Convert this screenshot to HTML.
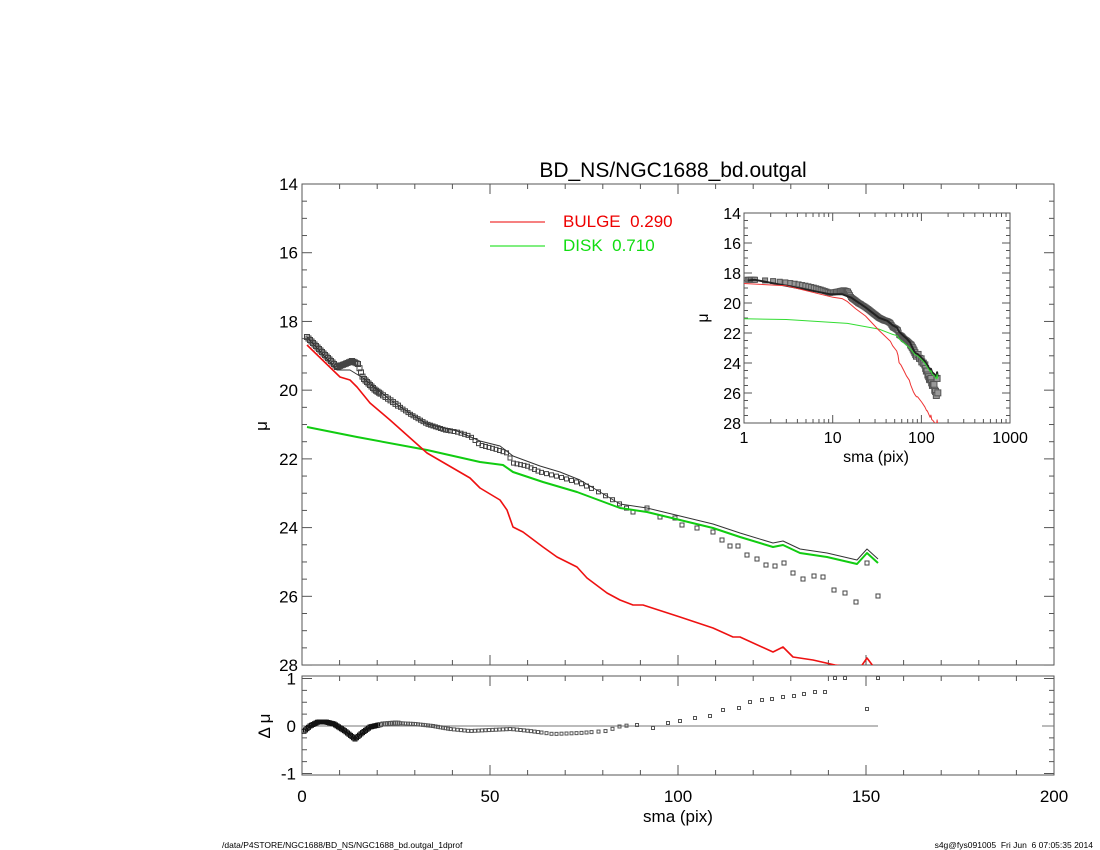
<!DOCTYPE html>
<html><head><meta charset="utf-8"><style>
body{margin:0;background:#fff;}
svg{display:block;font-family:"Liberation Sans",sans-serif;}
</style></head><body>
<svg id="s" width="1100" height="850" xmlns="http://www.w3.org/2000/svg">
<rect width="1100" height="850" fill="#fff"/>
<text x="673" y="177" font-size="21" text-anchor="middle">BD_NS/NGC1688_bd.outgal</text>
<text x="267" y="426" font-size="17" text-anchor="middle" transform="rotate(-90 267 426)">μ</text>
<text x="270" y="726" font-size="17" text-anchor="middle" transform="rotate(-90 270 726)">Δ μ</text>
<text x="678" y="822" font-size="17" text-anchor="middle">sma (pix)</text>
<line x1="490" y1="222" x2="545" y2="222" stroke="#e00" stroke-width="1"/>
<text x="563" y="227" font-size="17" fill="#e00">BULGE&#160;&#160;0.290</text>
<line x1="490" y1="246" x2="545" y2="246" stroke="#0d0" stroke-width="1"/>
<text x="563" y="251" font-size="17" fill="#1d1">DISK&#160;&#160;0.710</text>
<text x="222" y="848" font-size="8.5">/data/P4STORE/NGC1688/BD_NS/NGC1688_bd.outgal_1dprof</text>
<text x="1093" y="848" font-size="8.5" text-anchor="end">s4g@fys091005&#160;&#160;Fri Jun&#160;&#160;6 07:05:35 2014</text>
<text x="876" y="462" font-size="16" text-anchor="middle">sma (pix)</text>
<text x="708" y="318" font-size="16" text-anchor="middle" transform="rotate(-90 708 318)">μ</text>
<g id="g"></g>
</svg>
<script>
var NS="http://www.w3.org/2000/svg",g=document.getElementById('g');
function el(t,a,txt){var e=document.createElementNS(NS,t);for(var k in a)e.setAttribute(k,a[k]);if(txt!==undefined)e.textContent=txt;g.appendChild(e);return e;}
function line(x1,y1,x2,y2,c,w){el('line',{x1:x1,y1:y1,x2:x2,y2:y2,stroke:c||'#000','stroke-width':w||1});}
function poly(pts,c,w,clip){el('polyline',{points:pts.map(p=>p[0].toFixed(1)+','+p[1].toFixed(1)).join(' '),fill:'none',stroke:c,'stroke-width':w,'stroke-linejoin':'round','clip-path':clip||''});}
function sq(x,y,s,c){el('rect',{x:x-s/2,y:y-s/2,width:s,height:s,fill:'none',stroke:c||'#333','stroke-width':1});}
var d=document.createElementNS(NS,'defs');d.innerHTML='<clipPath id="cm"><rect x="302" y="184" width="752" height="481"/></clipPath><clipPath id="ci"><rect x="744" y="213" width="266" height="210"/></clipPath>';g.appendChild(d);
var L=302,R=1054,T=184,B=665;
el('rect',{x:L,y:T,width:R-L,height:B-T,fill:'none',stroke:'#555'});
function X(r){return L+r*3.76;} function Y(m){return T+(m-14)*34.36;}
for(var r=0;r<=200;r+=10){var mj=r%50==0,l=mj?10:5;line(X(r),B,X(r),B-l,'#555');line(X(r),T,X(r),T+l,'#555');}
for(var m=14;m<=28.001;m+=0.5){var mj=Math.abs(m%2)<0.01,l=mj?10:5;line(L,Y(m),L+l,Y(m),'#555');line(R,Y(m),R-l,Y(m),'#555');if(mj)el('text',{x:L-4,y:Y(m)+6,'font-size':17,'text-anchor':'end'},m);}
var RT=676,RB=775,R0=726,RS=47.5;
el('rect',{x:L,y:RT,width:R-L,height:RB-RT,fill:'none',stroke:'#555'});
for(var r=0;r<=200;r+=10){var mj=r%50==0,l=mj?10:5;line(X(r),RB,X(r),RB-l,'#555');line(X(r),RT,X(r),RT+l,'#555');if(mj)el('text',{x:X(r),y:802,'font-size':17,'text-anchor':'middle'},r);}
for(var v=-1;v<=1.001;v+=0.25){var mj=Math.abs(v%1)<0.01,l=mj?10:5;var yy=R0-v*RS;line(L,yy,L+l,yy,'#555');line(R,yy,R-l,yy,'#555');if(mj)el('text',{x:L-6,y:yy+6,'font-size':17,'text-anchor':'end'},Math.round(v));}
line(302,R0,878,R0,'#777');line(1042,R0,1054,R0,'#777');
var red=[[307,345],[340,377],[350,380],[357,387],[370,403],[390,420],[427,453],[470,478],[480,488],[500,500],[507,510],[513,527],[523,532],[543,547],[557,557],[577,567],[587,578],[607,593],[620,600],[633,605],[643,605],[680,617],[713,628],[733,637],[740,637],[773,652],[783,647],[793,657],[813,660],[835,665],[850,667],[860,668],[867,658],[873,666]];
var grn=[[307,427],[357,437],[427,450],[480,462],[503,465],[513,472],[543,482],[577,492],[620,508],[647,512],[680,520],[713,528],[740,537],[773,547],[783,545],[800,553],[827,557],[857,564],[867,553],[878,563]];
var dat=[[307,337],[322,352],[337,367],[345,364],[352,361],[358,364],[363,378],[375,390],[390,400],[410,414],[427,424],[445,430],[457,432],[470,436],[480,445],[495,449],[507,453],[513,463],[527,466],[540,472],[560,477],[580,483],[597,491],[613,500],[633,512],[647,508],[660,517],[675,518],[682,525],[697,528],[713,532],[722,540],[730,546],[738,546],[747,555],[757,559],[766,565],[775,566],[784,563],[793,573],[803,579],[814,576],[823,577],[834,590],[845,593],[856,602],[867,563],[878,596]];
function interp(a,x){for(var i=1;i<a.length;i++)if(x<=a[i][0]){var t=(x-a[i-1][0])/(a[i][0]-a[i-1][0]||1);return a[i-1][1]+t*(a[i][1]-a[i-1][1]);}return a[a.length-1][1];}
var mod=[[307,337],[337,370],[350,370],[363,378],[390,400],[427,424],[457,431],[480,441],[500,446],[513,456],[540,466],[560,472],[580,480]].concat(grn.slice(8).map(p=>[p[0],p[1]-4]));
var pts=[];for(var x=307;x<630;){pts.push([x,interp(dat,x)]);x+=x<380?1.5:(x<450?2.5:(x<540?3.5:(x<590?5:7)));}
dat.forEach(p=>{if(p[0]>=630)pts.push(p);});
pts.forEach(p=>sq(p[0],p[1],p[0]<400?5:4,'#444'));
poly(mod,'#333',1,'url(#cm)');
poly(grn,'#1c1',2,'url(#cm)');
poly(red,'#e11',1.6,'url(#cm)');
var res=[[302,733],[310,726],[318,722],[326,722],[334,724],[345,731],[355,739],[362,733],[370,727],[383,724],[396,723],[415,724],[433,726],[450,729],[470,731],[490,730],[511,729],[530,731],[553,734],[580,733],[606,731],[621,726],[637,725],[653,728],[668,723],[680,721],[695,718],[710,716],[723,710],[739,708],[750,702],[762,700],[772,699],[783,697],[794,696],[804,694],[815,692],[825,692],[835,678],[845,678],[867,709],[878,678]];
var rp=[];for(var x=304;x<630;){rp.push([x,interp(res,x)]);x+=x<380?1.5:(x<450?2.5:(x<540?3.5:(x<590?5:7)));}
res.forEach(p=>{if(p[0]>=630)rp.push(p);});
rp.forEach(p=>sq(p[0],p[1],p[0]<400?4:3,p[0]<380?'#111':'#555'));
// inset
var IL=744,IR=1010,IT=213,IB=423;
el('rect',{x:IL,y:IT,width:IR-IL,height:IB-IT,fill:'#fff',stroke:'#555'});
function IX(r){return 744+88.7*Math.log10(r);} function IY(m){return IT+(m-14)*15;}
for(var e=0;e<3;e++)for(var k=1;k<10;k++){var r=k*Math.pow(10,e),x=IX(r);var l=k==1?8:4;line(x,IB,x,IB-l,'#555');line(x,IT,x,IT+l,'#555');}
[1,10,100,1000].forEach(r=>el('text',{x:IX(r),y:443,'font-size':16,'text-anchor':'middle'},r));
for(var m=14;m<=28.001;m+=0.5){var mj=Math.abs(m%2)<0.01,l=mj?8:4;line(IL,IY(m),IL+l,IY(m),'#555');line(IR,IY(m),IR-l,IY(m),'#555');if(mj)el('text',{x:IL-3,y:IY(m)+6,'font-size':16,'text-anchor':'end'},m);}
function toI(p){var r=(p[0]-302)/3.76,m=14+(p[1]-184)/34.36;return [IX(r),IY(m)];}
var ired=[[IX(1),IY(18.7)],[IX(3),IY(18.85)]].concat(red.filter(p=>p[0]>320).map(toI));
ired=ired.concat([[IX(140),IY(28.6)]]);
var igrn=[[IX(1),IY(21.05)],[IX(3),IY(21.1)]].concat(grn.slice(1).map(toI));
var idat=[];for(var r=1.1;r<1.33;r+=0.05)idat.push([IX(r),IY(18.45)]);
pts.forEach(p=>idat.push(toI(p)));
idat.forEach(p=>{var s=p[0]>910?6:5;el('rect',{x:p[0]-s/2,y:p[1]-s/2,width:s,height:s,fill:'#999',stroke:'#555','stroke-width':1,'clip-path':'url(#ci)'});});
poly([[IX(1.1),IY(18.5)]].concat(mod.map(toI)),'#222',2,'url(#ci)');
poly(igrn,'#3d3',1,'url(#ci)');
poly(ired,'#e33',1,'url(#ci)');
</script>
</body></html>
